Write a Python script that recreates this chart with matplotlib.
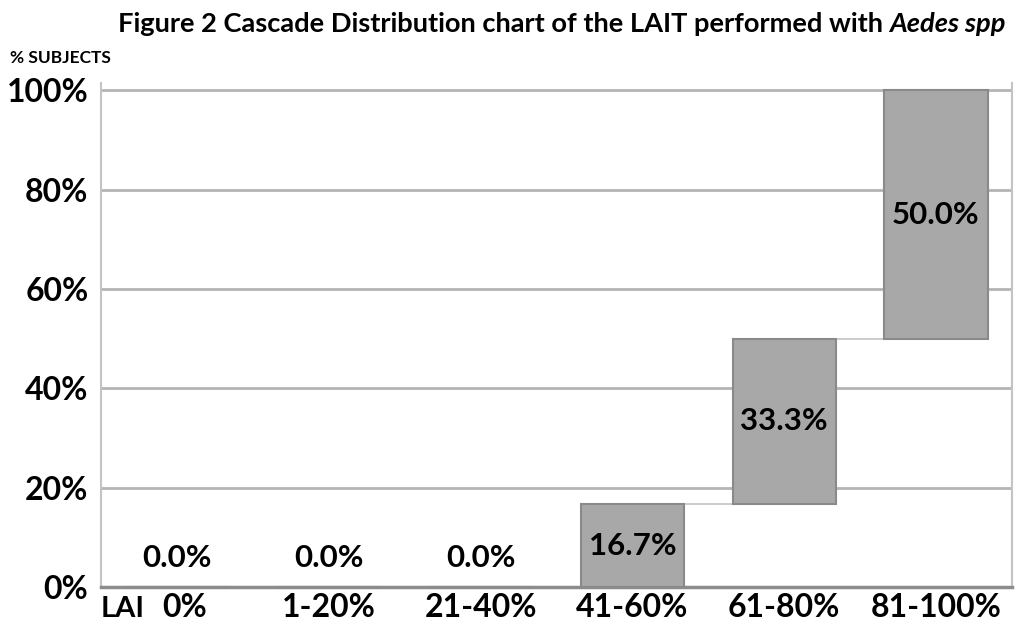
import numpy as np
import matplotlib
matplotlib.use("Agg")
import matplotlib.pyplot as plt
import matplotlib.transforms as mtransforms

plt.rcParams['font.family'] = ['Lato', 'DejaVu Sans']
plt.rcParams['font.weight'] = 'bold'

# data
categories = ["0%", "1-20%", "21-40%", "41-60%", "61-80%", "81-100%"]
values = [0.0, 0.0, 0.0, 16.7, 33.3, 50.0]
ytick_vals = [0, 20, 40, 60, 80, 100]

tops = np.cumsum(values)
bottoms = tops - np.array(values)
x = np.arange(len(categories))

fig = plt.figure(figsize=(10.2, 6.27), dpi=100)
ax = fig.add_axes([0.099, 0.0638, 0.893, 0.8038])

bar_w = 0.68
ax.bar(x, values, bottom=bottoms, width=bar_w, color="#a8a8a8",
       edgecolor="#8a8a8a", linewidth=1.5, zorder=3)

# connectors between bars
for i in range(len(x) - 1):
    ax.plot([x[i] + bar_w / 2, x[i + 1] - bar_w / 2], [tops[i], tops[i]],
            color="#c4c4c4", lw=1.2, zorder=2)

# value labels
for xi, v, b in zip(x, values, bottoms):
    if v > 0:
        ax.text(xi, b + v / 2, f"{v:.1f}%", ha="center", va="center",
                fontsize=22.5, fontweight="bold", zorder=4)
    else:
        ax.text(xi, 5.8, f"{v:.1f}%", ha="center", va="center",
                fontsize=22.5, fontweight="bold", zorder=4)

ax.set_xlim(-0.5, len(x) - 0.5)
ax.set_ylim(0, 101.5)
ax.set_yticks(ytick_vals)
ax.set_yticklabels([f"{t}%" for t in ytick_vals], fontsize=23, fontweight="bold")
ax.set_xticks(x)
ax.set_xticklabels(categories, fontsize=23, fontweight="bold")
ax.tick_params(axis="both", length=0)
ax.tick_params(axis="x", pad=4)
ax.tick_params(axis="y", pad=9)

# nudge first category label right to leave room for "LAI"
first = ax.get_xticklabels()[0]
first.set_transform(first.get_transform() +
                    mtransforms.ScaledTranslation(8 / 100, 0, fig.dpi_scale_trans))

ax.yaxis.grid(True, color="#b4b4b4", lw=2, zorder=1)
ax.set_axisbelow(True)

ax.spines["top"].set_visible(False)
ax.spines["left"].set_color("#c4c4c4")
ax.spines["left"].set_linewidth(1.5)
ax.spines["right"].set_color("#c4c4c4")
ax.spines["right"].set_linewidth(1.5)
ax.spines["bottom"].set_color("#8c8c8c")
ax.spines["bottom"].set_linewidth(2.5)

ax.text(-0.505, -0.043, "LAI", transform=ax.get_xaxis_transform(),
        ha="left", va="center", fontsize=21, fontweight="bold")

fig.text(0.872, 0.962, "Figure 2 Cascade Distribution chart of the LAIT performed with ",
         ha="right", va="center", fontsize=19.6, fontweight="bold")
fig.text(0.872, 0.962, "Aedes spp", ha="left", va="center", fontsize=19.6,
         fontweight="bold", style="italic")
fig.text(0.01, 0.908, "% SUBJECTS", ha="left", va="center", fontsize=12.5,
         fontweight="bold")

fig.savefig("out.png", dpi=100)
